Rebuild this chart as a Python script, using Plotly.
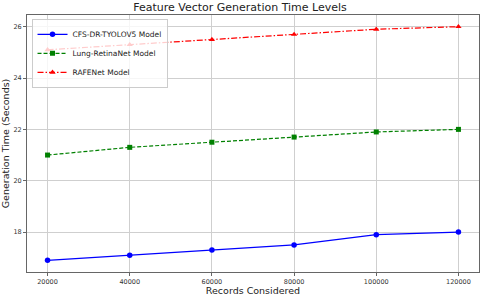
import plotly.graph_objects as go

records = [20000, 40000, 60000, 80000, 100000, 120000]
cfs_dr = [16.9, 17.1, 17.3, 17.5, 17.9, 18.0]
lung_retina = [21.0, 21.3, 21.5, 21.7, 21.9, 22.0]
rafenet = [25.1, 25.3, 25.5, 25.7, 25.9, 26.0]
x_ticks = [20000, 40000, 60000, 80000, 100000, 120000]
y_ticks = [18, 20, 22, 24, 26]

fig = go.Figure()
fig.add_trace(go.Scatter(x=records, y=cfs_dr, name="CFS-DR-TYOLOV5 Model", mode="lines+markers",
                         line=dict(color="blue", width=1.2, dash="solid"),
                         marker=dict(symbol="circle", size=5.5, color="blue")))
fig.add_trace(go.Scatter(x=records, y=lung_retina, name="Lung-RetinaNet Model", mode="lines+markers",
                         line=dict(color="green", width=1.2, dash="4px,2px"),
                         marker=dict(symbol="square", size=5, color="green")))
fig.add_trace(go.Scatter(x=records, y=rafenet, name="RAFENet Model", mode="lines+markers",
                         line=dict(color="red", width=1.2, dash="6px,2px,1.5px,2px"),
                         marker=dict(symbol="triangle-up", size=5.5, color="red")))

font = "DejaVu Sans"
fig.update_layout(
    width=480, height=296,
    margin=dict(l=27, r=1, t=15, b=24, autoexpand=False),
    paper_bgcolor="white", plot_bgcolor="white",
    font=dict(family=font, color="#333"),
    title=dict(text="Feature Vector Generation Time Levels", x=0.5, xanchor="center",
               y=0.975, yanchor="middle", font=dict(size=11, color="#222", family=font)),
    showlegend=True,
    legend=dict(x=0.01, y=0.985, xanchor="left", yanchor="top",
                bgcolor="rgba(255,255,255,0.8)", bordercolor="#ccc", borderwidth=1,
                font=dict(size=7.5, family=font, color="#222"),
                itemwidth=30, tracegroupgap=0),
)
fig.update_xaxes(range=[15000, 125000], tickvals=x_ticks, ticktext=[str(v) for v in x_ticks],
                 showgrid=True, gridcolor="#cfcfcf", gridwidth=0.8,
                 showline=True, linecolor="#666", mirror=True, linewidth=1,
                 ticks="outside", ticklen=3, tickcolor="#666",
                 tickfont=dict(size=6.5, family=font, color="#333"), zeroline=False,
                 title=dict(text="Records Considered", font=dict(size=9.5, family=font, color="#222"), standoff=3))
fig.update_yaxes(range=[16.445, 26.455], tickvals=y_ticks, ticktext=[str(v) for v in y_ticks],
                 showgrid=True, gridcolor="#cfcfcf", gridwidth=0.8,
                 showline=True, linecolor="#666", mirror=True, linewidth=1,
                 ticks="outside", ticklen=3, tickcolor="#666",
                 tickfont=dict(size=6.5, family=font, color="#333"), zeroline=False,
                 title=dict(text="Generation Time (Seconds)", font=dict(size=9.5, family=font, color="#222"), standoff=3))

fig.write_html("out.html", config={"displayModeBar": False},
               post_script="document.body.style.margin='0';document.body.style.padding='0';")
